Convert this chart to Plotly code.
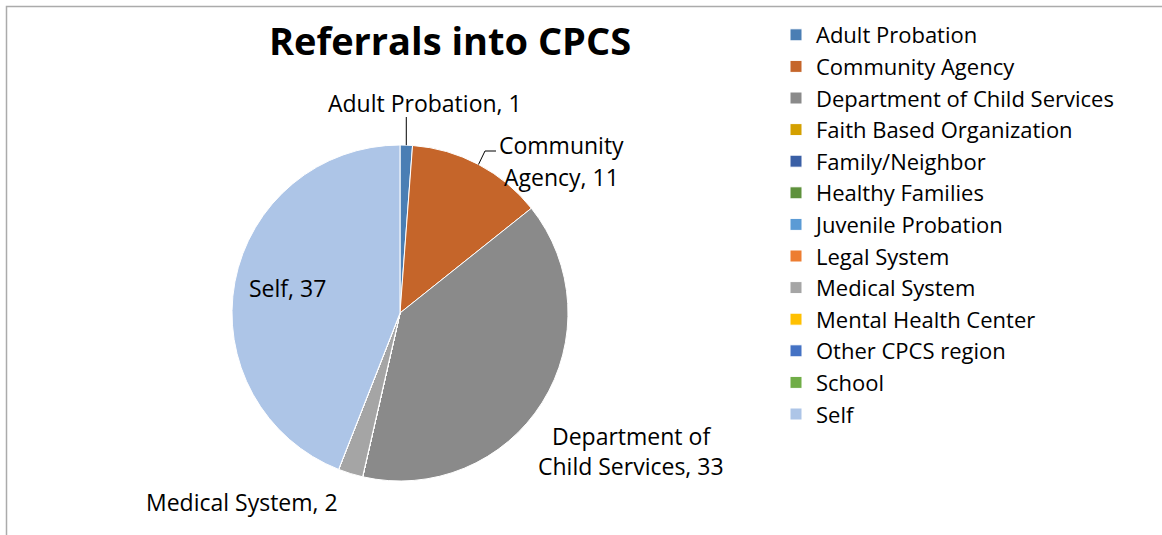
import math
import plotly.graph_objects as go

# ---- data ----
categories = ["Adult Probation", "Community Agency", "Department of Child Services",
              "Faith Based Organization", "Family/Neighbor", "Healthy Families",
              "Juvenile Probation", "Legal System", "Medical System",
              "Mental Health Center", "Other CPCS region", "School", "Self"]
values = [1, 11, 33, 0, 0, 0, 0, 0, 2, 0, 0, 0, 37]
colors = ["#4A7EB4", "#C5652A", "#8A8A8A", "#D4A000", "#3A5FA5", "#5E913C",
          "#5B9BD5", "#ED7D31", "#A5A5A5", "#FFC000", "#4472C4", "#70AD47", "#ADC5E7"]
title_text = "Referrals into CPCS"

W, H = 1162, 535
FONT = "Open Sans"
FS_LEG = 22
FS_LAB = 23

# pie geometry in pixels
cx, cy, r = 400, 313, 168

fig = go.Figure(go.Pie(
    labels=categories, values=values, sort=False, direction="clockwise",
    rotation=0, marker=dict(colors=colors, line=dict(color="white", width=1)),
    textinfo="none", hoverinfo="label+value",
    domain=dict(x=[(cx - r) / W, (cx + r) / W], y=[1 - (cy + r) / H, 1 - (cy - r) / H]),
    showlegend=True,
))

def px(x):
    return x / W

def py(y):
    return 1 - y / H

# slice mid-angles from data
total = sum(values)
mids = {}
acc = 0
for c, v in zip(categories, values):
    mids[c] = (acc + v / 2) / total * 2 * math.pi
    acc += v

def edge(c, k=1.0):
    a = mids[c]
    return cx + r * k * math.sin(a), cy - r * k * math.cos(a)

# data labels (text lines with pixel centers)
label_lines = [
    ("Adult Probation, 1", 425, 103),
    ("Community", 561, 145),
    ("Agency, 11", 561, 177),
    ("Self, 37", 287, 288),
    ("Department of", 631, 436),
    ("Child Services, 33", 631, 466),
    ("Medical System, 2", 242, 502),
]
annotations = []
for t, x, y in label_lines:
    annotations.append(dict(text=t, x=px(x), y=py(y), xref="paper", yref="paper",
                            showarrow=False, xanchor="center", yanchor="middle",
                            font=dict(family=FONT, size=FS_LAB, color="#000000")))

shapes = []
# leader lines
ex, ey = edge("Adult Probation")
shapes.append(dict(type="line", xref="paper", yref="paper",
                   x0=px(ex), y0=py(ey), x1=px(ex), y1=py(117),
                   line=dict(color="#000000", width=1)))
ex, ey = edge("Community Agency")
shapes.append(dict(type="path", xref="paper", yref="paper",
                   path=f"M{px(ex)},{py(ey)} L{px(485)},{py(151)} L{px(496)},{py(151)}",
                   line=dict(color="#000000", width=1)))
# chart border
shapes.append(dict(type="rect", xref="paper", yref="paper",
                   x0=px(6.5), x1=1.05, y0=-0.05, y1=py(6.5),
                   line=dict(color="#ABABAB", width=1.5), layer="below"))

fig.update_layout(
    width=W, height=H, margin=dict(l=0, r=0, t=0, b=0),
    paper_bgcolor="white", plot_bgcolor="white",
    title=dict(text=f"<b>{title_text}</b>", x=px(450), xanchor="center",
               y=py(42), yanchor="middle",
               font=dict(family=FONT, size=38, color="#000000")),
    legend=dict(x=px(776), xanchor="left", y=py(14), yanchor="top",
                font=dict(family=FONT, size=FS_LEG, color="#000000"),
                bgcolor="rgba(0,0,0,0)", itemclick=False, traceorder="normal"),
    annotations=annotations, shapes=shapes,
    font=dict(family=FONT),
)

fig.write_html("out.html", config={"displayModeBar": False},
               post_script="document.body.style.margin='0';")
